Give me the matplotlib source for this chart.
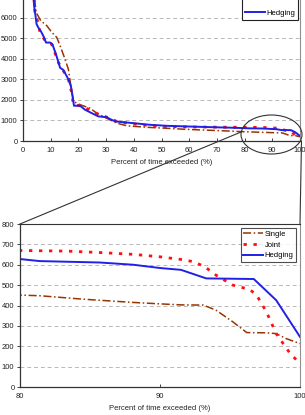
import matplotlib
matplotlib.use('Agg')
import matplotlib.pyplot as plt
from matplotlib.patches import Ellipse, Rectangle
from matplotlib.lines import Line2D

# flow duration curves: percent of time exceeded vs flow
hedging_x = [3.5, 4.0, 4.5, 4.9, 5.5, 6.7, 7.6, 8.3, 9.8, 10.6, 11.9, 13.4, 14.6, 16.4, 17.3,
             17.9, 18.4, 20.6, 22.4, 24.8, 27.2, 30.2, 32.0, 33.6, 37.5, 45.9, 52, 64, 76,
             80, 81.4, 85.7, 88.1, 90.0, 91.5, 93.3, 96.7, 98.3, 100]
hedging_y = [7900, 6600, 6115, 5700, 5540, 5295, 5050, 4800, 4800, 4720, 4230, 3570, 3460, 3000, 2670,
             2180, 1720, 1720, 1525, 1360, 1200, 1160, 1030, 950, 900, 790, 740, 690, 645,
             628, 618, 611, 600, 584, 575, 533, 530, 426, 246]

joint_x = [3.5, 4.3, 5.6, 6.1, 8.0, 10.4, 12.8, 14.6, 16.4, 17.6, 18.2, 21.8, 24.8, 27.8, 31.4,
           33.9, 39.9, 45.9, 52, 64, 76, 80, 83.3, 85.7, 88.1, 90.0, 91.5, 92.4, 93.2, 94.0,
           95.2, 96.4, 96.9, 97.6, 98.3, 99.3, 100]
joint_y = [7900, 6280, 5700, 5300, 4890, 4720, 3820, 3410, 3000, 2340, 1770, 1690, 1440, 1280, 1110,
           950, 836, 740, 700, 680, 672, 670, 667, 660, 651, 639, 626, 615, 590, 549,
           500, 479, 451, 369, 262, 164, 115]

single_x = [3.5, 4.7, 6.4, 8.6, 10.4, 12.2, 13.4, 15.2, 16.4, 17.3, 18.2, 20.6, 24.2, 26.6, 30.2,
            33.9, 37.5, 45.9, 52, 58, 64, 70, 76, 80, 81.4, 84.5, 88.1, 90.0, 91.5, 93.1,
            94.0, 95.2, 96.2, 97.6, 98.3, 99.0, 100]
single_y = [7900, 6280, 5870, 5620, 5300, 5050, 4640, 3980, 3490, 2670, 1930, 1770, 1600, 1360, 1110,
            870, 740, 660, 620, 575, 540, 510, 475, 451, 448, 431, 415, 408, 403, 402,
            377, 320, 267, 266, 262, 238, 213]

W, H = 305, 415
FS = 5.5
TXT = '#222222'
plt.rcParams['font.family'] = ['Liberation Sans', 'DejaVu Sans']


def fx(px):
    return px / W


def fy(py):
    return 1 - py / H


def draw_series(ax):
    ax.plot(single_x, single_y, color='#993300', lw=1.1, dashes=(5.3, 1.7, 1, 1.7), label='Single')
    ax.plot(joint_x, joint_y, color='#ff1010', lw=2.0, dashes=(1.2, 2.4), label='Joint')
    h, = ax.plot(hedging_x, hedging_y, color='#2020e8', lw=1.4, label='Hedging')
    return h


def style(ax):
    ax.yaxis.grid(True, color='#b8b8b8', ls=(0, (4, 3)), lw=0.7)
    ax.set_axisbelow(True)
    ax.tick_params(labelsize=FS, colors=TXT, length=2, width=0.6, pad=2)
    ax.tick_params(axis='x', direction='in', pad=4)
    for s in ['left', 'bottom']:
        ax.spines[s].set_color('#333333')
        ax.spines[s].set_linewidth(0.9)
    ax.spines['right'].set_color('#909090')
    ax.spines['top'].set_color('#333333')
    ax.set_xlabel('Percent of time exceeded (%)', fontsize=FS, color=TXT, labelpad=4)


fig = plt.figure(figsize=(W / 100, H / 100), dpi=100)

# top chart, its top edge is cut by the image border
ax1 = fig.add_axes([fx(23), fy(141), fx(277), (141 + 21) / H])
hedge_line = draw_series(ax1)
ax1.set_xlim(0, 100)
ax1.set_ylim(0, 7900)
ax1.set_xticks(range(0, 101, 10))
ax1.set_yticks(range(0, 6001, 1000))
style(ax1)
# legend box cut by the image border: only the last entry shows
ax1.add_patch(Rectangle((fx(242), fy(20)), fx(56), 30 / H, transform=fig.transFigure,
                        facecolor='white', edgecolor='#222222', lw=0.8, zorder=4.5,
                        clip_on=False))
ax1.legend(handles=[hedge_line], loc='center', bbox_to_anchor=(fx(270), fy(13.5)),
           bbox_transform=fig.transFigure, fontsize=FS, frameon=False,
           handlelength=2.6, handletextpad=0.2, borderpad=0.0)

# zoomed chart
ax2 = fig.add_axes([fx(20), fy(387), fx(280), (387 - 224) / H])
draw_series(ax2)
ax2.set_xlim(80, 100)
ax2.set_ylim(0, 800)
ax2.set_xticks([80, 90, 100])
ax2.set_yticks(range(0, 801, 100))
style(ax2)
leg = ax2.legend(loc='upper right', fontsize=FS, frameon=True, fancybox=False,
                 handlelength=2.6, borderaxespad=0.5, labelspacing=0.45,
                 handletextpad=0.2, borderpad=0.35)
leg.get_frame().set_edgecolor('#222222')
leg.get_frame().set_linewidth(0.8)

# ellipse and connector lines
fig.patches.append(Ellipse((fx(271.5), fy(134.5)), fx(61), 39 / H, fill=False,
                           edgecolor='#333333', lw=0.8, transform=fig.transFigure))
fig.lines.append(Line2D([fx(241), fx(20)], [fy(132), fy(224)], color='#333333', lw=0.8,
                        transform=fig.transFigure))
fig.lines.append(Line2D([fx(301.5), fx(300)], [fy(141), fy(224)], color='#333333', lw=0.8,
                        transform=fig.transFigure))

fig.savefig('out.png', dpi=100)
